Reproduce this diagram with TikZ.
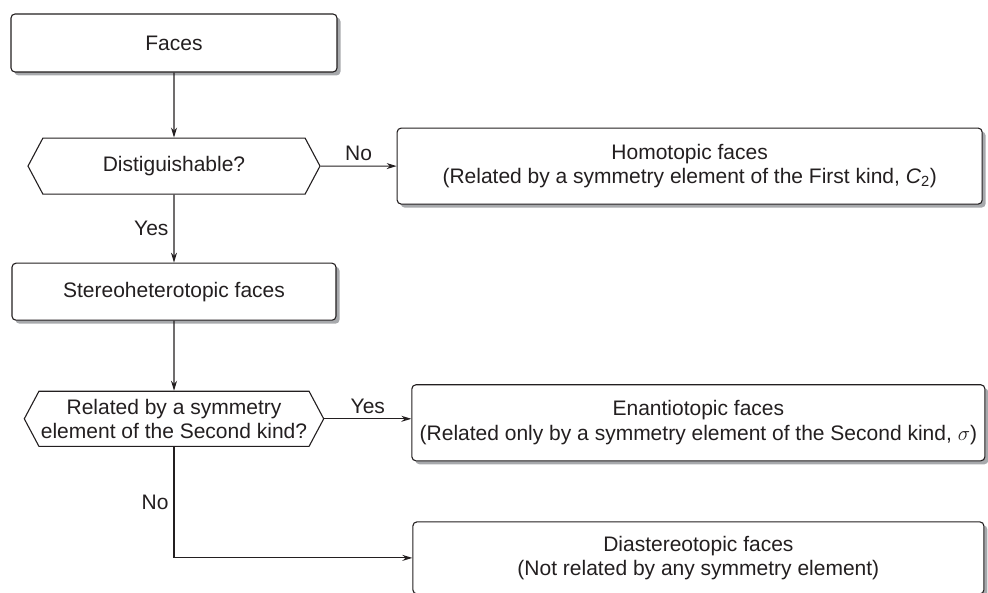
\documentclass[tikz,border=0pt]{standalone}
\usepackage{fontspec}
\setmainfont{Liberation Sans}
\usetikzlibrary{positioning,arrows.meta,shapes.symbols,shadows}
\definecolor{ink}{HTML}{231f20}
\definecolor{shade}{HTML}{a7a9ac}

\begin{document}
\begin{tikzpicture}[x=1pt,y=-1pt,
  font=\fontsize{21}{24.5}\selectfont,color=ink,
  box/.style={draw=ink,line width=1.1pt,rounded corners=4pt,align=center,fill=white,
    drop shadow={shadow xshift=3.5pt,shadow yshift=-3.5pt,fill=shade,opacity=1}},
  ask/.style={draw=ink,line width=1.1pt,shape=signal,signal to=west and east,
    signal pointer angle=124,align=center,fill=white,inner xsep=2pt,inner ysep=1pt},
  arr/.style={-{Stealth[length=10pt,width=6pt]},line width=1.1pt,draw=ink},
  lbl/.style={inner sep=5pt}]
  \useasboundingbox (0,0) rectangle (988,593);

  \node[box,minimum width=326pt,minimum height=58pt] (faces) at (174,43) {Faces};
  \node[ask,below=65pt of faces,minimum width=292pt,minimum height=56pt] (dist) {Distiguishable?};
  \node[box,right=76pt of dist,minimum width=585pt,minimum height=76pt] (homo)
    {Homotopic faces\\(Related by a symmetry element of the First kind, \textit{C}\textsubscript{2})};
  \node[box,below=68pt of dist,minimum width=324pt,minimum height=57pt] (stereo) {Stereoheterotopic faces};
  \node[ask,below=70pt of stereo,minimum width=296pt,minimum height=55pt] (rel)
    {Related by a symmetry\\element of the Second kind?};
  \node[box,right=87pt of rel,yshift=-4pt,minimum width=573pt,minimum height=76pt] (enan)
    {Enantiotopic faces\\(Related only by a symmetry element of the Second kind, $\sigma$)};
  \node[box,below=60pt of enan,minimum width=571pt,minimum height=72pt] (dia)
    {Diastereotopic faces\\(Not related by any symmetry element)};

  \draw[arr] (faces) -- (dist);
  \draw[arr] (dist) -- node[above,lbl]{No} (homo);
  \draw[arr] (dist) -- node[left,lbl]{Yes} (stereo);
  \draw[arr] (stereo) -- (rel);
  \draw[arr] (rel.east) -- node[above,lbl]{Yes} (rel.east -| enan.west);
  \draw[arr] (rel.south) |- node[pos=0.25,left,lbl]{No} (dia.west);
\end{tikzpicture}
\end{document}
